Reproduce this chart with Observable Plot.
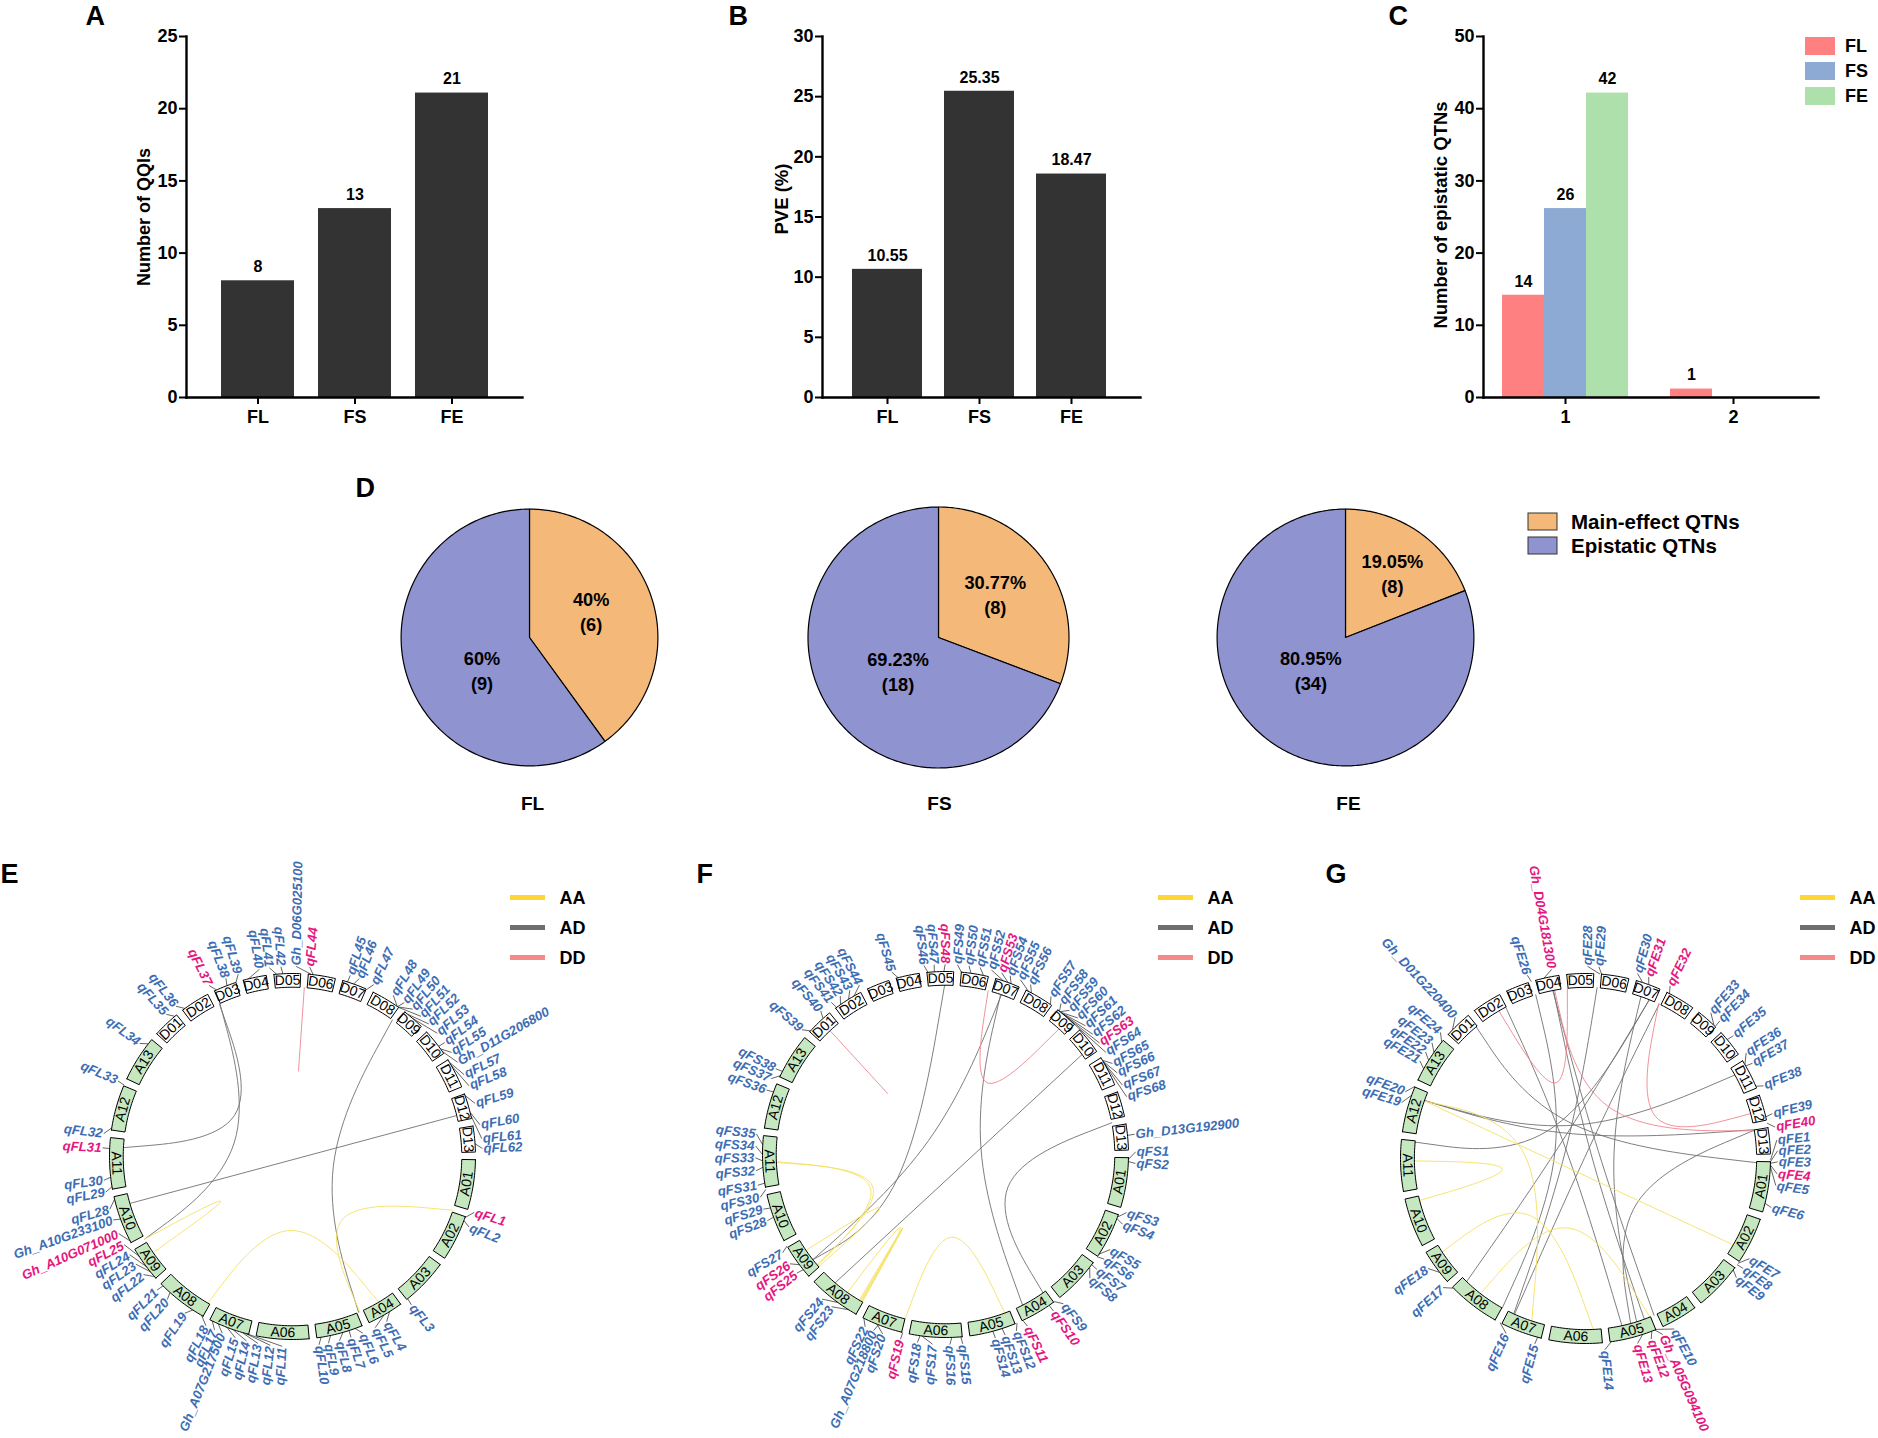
<!DOCTYPE html>
<html><head><meta charset="utf-8">
<script src="https://cdn.jsdelivr.net/npm/d3@7"></script>
<script src="https://cdn.jsdelivr.net/npm/@observablehq/plot@0.6"></script>
<style>
html,body{margin:0;padding:0;background:#fff}
#page{position:relative;width:1878px;height:1438px;overflow:hidden;font-family:"Liberation Sans",Arial,sans-serif}
#page svg{position:absolute;background:transparent;overflow:visible}
</style></head><body><div id="page"></div>
<script>
// ---- bar panels
const traits = ["FL","FS","FE"];
const qqiCounts = [8,13,21];
const pveValues = [10.55,25.35,18.47];
const pveLabels = ["10.55","25.35","18.47"];
const epiSlots = ["1|FL","1|FS","1|FE","gap","2|FL","2|FS","2|FE"];
const epiKeys = ["1|FL","1|FS","1|FE","2|FL"];
const epiValues = [14,26,42,1];
const epiColors = ["#ff8080","#8caad3","#aee0ac","#ff8080"];
// ---- pies
const pieMain = [6,8,8];
const pieEpi = [9,18,34];
const pieMainText = ["40%\n(6)","30.77%\n(8)","19.05%\n(8)"];
const pieEpiText = ["60%\n(9)","69.23%\n(18)","80.95%\n(34)"];
const pieMainLabelAt = [[.48,.21],[.435,.337],[.365,.507]];
const pieEpiLabelAt = [[-.37,-.25],[-.31,-.25],[-.27,-.25]];
const orange = "#f4b878", purple = "#8f93d0";
// ---- circos
const chromNames = ["A01","A02","A03","A04","A05","A06","A07","A08","A09","A10","A11","A12","A13","D01","D02","D03","D04","D05","D06","D07","D08","D09","D10","D11","D12","D13"];
const chromSpan = [15.8,14.6,15.2,11.5,14.7,16.7,13,16.7,11.2,15.4,16.2,14.4,14.6,8.6,9.3,7.2,7.4,8.4,8.6,7.8,9.3,6.9,8.6,9.5,8,8.2];
const linkColors = {AA:"#f5e163",AD:"#707070",DD:"#f0858f"};
const linkTypes = ["AA","AD","DD"];
const legendLine = ["#ffd633","#6e6e6e","#f58a8a"];
const BLUE = "#3d6db3", PINK = "#e5177f";

const flNames = ["qFL1","qFL2","qFL3","qFL4","qFL5","qFL6","qFL7","qFL8","qFL9","qFL10","qFL11","qFL12","qFL13","qFL14","qFL15","Gh_A07G217500","qFL17","qFL18","qFL19","qFL20","qFL21","qFL22","qFL23","qFL24","qFL25","Gh_A10G071000","Gh_A10G233100","qFL28","qFL29","qFL30","qFL31","qFL32","qFL33","qFL34","qFL35","qFL36","qFL37","qFL38","qFL39","qFL40","qFL41","qFL42","Gh_D06G025100","qFL44","qFL45","qFL46","qFL47","qFL48","qFL49","qFL50","qFL51","qFL52","qFL53","qFL54","qFL55","Gh_D11G206800","qFL57","qFL58","qFL59","qFL60","qFL61","qFL62"];
const flLabelDeg = [107.1,111.8,141.3,150.3,154.2,158.3,162.1,165.7,169.1,172,183.1,186.7,190.5,194,197.5,201.7,204.2,207.1,214.5,221.2,225.4,231.6,235.5,238.9,242.4,246.1,250.5,253.9,259.2,262.8,272.6,276.9,293.4,306.5,318.4,322.2,334,339.5,343.4,350,353,356.5,1.1,5.2,17.7,20.6,25.3,32,36,39.2,42.5,45.8,49.6,53.2,56.8,60.3,64.5,68.2,73.8,80.4,84.6,87.6];
const flRingDeg = [109.5,110.5,141,148,150,160,162,164,168,171,194.5,195,196,199,201,204,206,209.8,213,222,225,229,231,233,237,242.5,250,256.5,260.5,263.5,272.5,279,293,308,320,324,335.5,339,342,346,355,357,6,6.5,17.5,19.5,24,34.9,35,35.2,35.4,39,41,53,54,55,59,60,70.5,76,77,86];
const flPink = ["qFL1","qFL25","Gh_A10G071000","qFL31","qFL37","qFL44"];
// type, end a (deg), end b (deg), peak direction (deg), peak radius, free end radius
const flLinks = [
 ["DD",4,4,null,null,.506],
 ["AD",334.4,273,305,.42],
 ["AD",334.6,240.8,283,.354],
 ["AD",36.2,157,103.4,.248],
 ["AD",76,253.9],
 ["AA",108.5,156.6,141,.474],
 ["AA",210,149.4,181,.437],
 ["AA",240.8,235.4,238.1,.5]
];

const fsNames = ["qFS1","qFS2","Gh_D13G192900","qFS3","qFS4","qFS5","qFS6","qFS7","qFS8","qFS9","qFS10","qFS11","qFS12","qFS13","qFS14","qFS15","qFS16","qFS17","qFS18","qFS19","qFS20","Gh_A07G218800","qFS22","qFS23","qFS24","qFS25","qFS26","qFS27","qFS28","qFS29","qFS30","qFS31","qFS32","qFS33","qFS34","qFS35","qFS36","qFS37","qFS38","qFS39","qFS40","qFS41","qFS42","qFS43","qFS44","qFS45","qFS46","qFS47","qFS48","qFS49","qFS50","qFS51","qFS52","qFS53","qFS54","qFS55","qFS56","qFS57","qFS58","qFS59","qFS60","qFS61","qFS62","qFS63","qFS64","qFS65","qFS66","qFS67","qFS68"];
const fsLabelDeg = [89.2,92.7,83.9,107.8,111.5,120,123.4,127.2,130.6,141.7,145.4,154.5,158.1,161.7,164.8,174.8,178.7,183.9,188.5,193.7,199.3,202.2,205,216.8,220.5,231.4,234.9,238.9,249.6,253.3,257,260.7,265.1,269,272.6,276.2,289.8,293.5,296.8,311,319,323.1,326.4,329.8,333.1,343.6,353.5,356.6,359.9,3.6,7.1,10.5,14,17.2,19.9,23.2,26.6,33.7,37.4,40.7,44.1,47.4,50.8,54.1,57.5,61.4,64.6,68.6,72.3];
const fsRingDeg = [91.5,92.2,84,110,110.5,123,124,127,128,143.5,145.5,155,157,162,165,175.2,178,187.5,188,193.5,202,201.5,206.5,212,216,231,233,240,250,253,259,261,266,268,270,273,290,295.5,297,312.5,318,323.5,325,328,330,345,354.5,356.5,359.5,5,8,12,18.5,20,21,27,28,35,38.5,38.7,39,39.3,39.6,40,42,59,59.3,59.6,60];
const fsPink = ["qFS10","qFS11","qFS19","qFS25","qFS26","qFS48","qFS53","qFS63"];
const fsLinks = [
 ["DD",317,316.5,null,null,.497],
 ["AD",359.7,231.6,243,.32],
 ["AD",19.3,231.6,310,.13],
 ["AD",19,152.9,79.4,.213],
 ["DD",14.6,42.1,29.8,.49],
 ["AD",53.8,220.7],
 ["AD",79.2,144.8,117.3,.416],
 ["AA",267.6,229,246.8,.485],
 ["AA",267.3,229.4,246.5,.47],
 ["AA",235.5,228.5,231,.5],
 ["AA",215.4,209.8,211.7,.508],
 ["AA",210.2,209.4,210.1,.513],
 ["AA",210.6,209.8,210.3,.5],
 ["AA",193.8,159.5,175.7,.49]
];

const feNames = ["qFE1","qFE2","qFE3","qFE4","qFE5","qFE6","qFE7","qFE8","qFE9","qFE10","Gh_A05G094100","qFE12","qFE13","qFE14","qFE15","qFE16","qFE17","qFE18","qFE19","qFE20","qFE21","qFE22","qFE23","qFE24","Gh_D01G220400","qFE26","Gh_D04G181300","qFE28","qFE29","qFE30","qFE31","qFE32","qFE33","qFE34","qFE35","qFE36","qFE37","qFE38","qFE39","qFE40"];
const feLabelDeg = [84.5,87.7,91,94.6,98.1,104.8,121.4,124.9,128.3,152.5,156.3,160,164.3,174.2,195.3,204.4,227.8,235.1,286.9,290.3,300.5,303.7,307,311,317.3,342.4,349.9,.6,4,15.7,19.2,26.1,40.7,44.3,50.3,56.7,60.3,67.8,76.5,80.6];
const feRingDeg = [90.5,91,91.5,92,92.5,104,124.5,125,127,157.5,158,159,162,172,195,207.5,225.5,232,290,293,299,302,305,309,314,343,347,4.5,5,18,20,27,44,44.5,50,59.5,60,67,77,79];
const fePink = ["qFE4","Gh_A05G094100","qFE12","qFE13","Gh_D04G181300","qFE31","qFE32","qFE40"];
const feLinks = [
 ["AD",320.3,91.4,339.6,.215],
 ["AD",332.2,167.7,297.8,.133],
 ["AD",343.1,209.1,282.9,.183],
 ["AD",349.2,159.9,59,.04],
 ["AD",349,156.4,61.5,.086],
 ["AD",3.9,204.8,289,.125],
 ["AD",18.9,162.6,98,.167],
 ["AD",21.9,224,291,.173],
 ["AD",25.5,204.5,19,.066],
 ["AD",289.8,60.8,344.6,.203],
 ["AD",289.8,80.3,332.4,.163],
 ["AD",275.5,21.9,305.2,.276],
 ["AD",80.5,164.7,130.8,.398],
 ["DD",329.6,353.9,338.8,.475],
 ["DD",349.6,80.7,25,.33],
 ["DD",25.3,74.8,59,.477],
 ["AA",289.7,120.3],
 ["AA",289.6,198.3,273,.355],
 ["AA",269.2,255.8,262.7,.49],
 ["AA",236.9,177.4,222.5,.46],
 ["AA",217.8,157.9,193.4,.418]
];

const page = document.getElementById("page");
function place(svg,left,top){svg.style.left=left+"px";svg.style.top=top+"px";page.appendChild(svg);}
const FONT = '"Liberation Sans",Arial,sans-serif';
const NARROW = '"Liberation Sans Narrow","Liberation Sans",Arial,sans-serif';
const letter = (t,dx,dy) => Plot.text([t],{frameAnchor:"top-left",dx,dy,fontSize:27,fontWeight:700,fontFamily:FONT,lineAnchor:"top",textAnchor:"start"});

function barPanel(o){
  const marks = [
    Plot.barY(o.rows,{x:"k",y:"v",fill:"c",insetTop:-1.2}),
    Plot.text(o.rows.filter(d=>d.t),{x:"k",y:"v",text:"t",dy:-15,fontSize:o.valueSize,fontFamily:o.font}),
    Plot.axisY({ticks:o.ticks,tickSize:7,strokeWidth:2,tickPadding:2,label:null,fontSize:o.tickSize,fontFamily:o.font}),
    Plot.axisX({ticks:o.xticks,tickSize:7,strokeWidth:2,tickPadding:6,label:null,tickFormat:o.xfmt,fontSize:o.tickSize,fontFamily:o.font}),
    Plot.frame({anchor:"left",stroke:"#000",strokeWidth:2.4}),
    Plot.frame({anchor:"bottom",stroke:"#000",strokeWidth:2.4}),
    Plot.text([o.ylabel],{frameAnchor:"left",textAnchor:"middle",rotate:-90,dx:o.labelDx,dy:o.labelDy||0,fontSize:o.labelSize,fontFamily:FONT}),
    letter(o.letter,o.letterDx,o.letterDy)
  ];
  const svg = Plot.plot({
    width:o.width,height:440,marginTop:36,marginBottom:43,marginLeft:o.axisX,marginRight:o.width-o.axisEnd,
    style:{fontFamily:FONT,fontWeight:700,color:"#000",background:"transparent",overflow:"visible"},
    color:{type:"identity"},
    x:{domain:o.domain,range:o.range,padding:o.padding,axis:null},
    y:{domain:[0,o.ymax],axis:null},
    marks
  });
  place(svg,o.left,0);
}
const rowsOf = (ks,vs,ls,cs)=>ks.map((k,i)=>({k,v:vs[i],t:ls[i],c:cs[i]}));
barPanel({left:60,width:480,axisX:126,axisEnd:462,range:[136,453.5],padding:.25,domain:traits,xticks:traits,
  rows:rowsOf(traits,qqiCounts,qqiCounts.map(String),["#333","#333","#333"]),ticks:[0,5,10,15,20,25],ymax:25,
  ylabel:"Number of QQIs",labelDx:-42,labelSize:18,font:NARROW,tickSize:18,valueSize:16,letter:"A",letterDx:-101,letterDy:-31});
barPanel({left:720,width:430,axisX:102,axisEnd:420,range:[109,409],padding:.243,domain:traits,xticks:traits,
  rows:rowsOf(traits,pveValues,pveLabels,["#333","#333","#333"]),ticks:[0,5,10,15,20,25,30],ymax:30,
  ylabel:"PVE (%)",labelDx:-40,labelDy:-18,labelSize:18.5,font:NARROW,tickSize:18,valueSize:16,letter:"B",letterDx:-94,letterDy:-31});
barPanel({left:1385,width:440,axisX:98,axisEnd:433,range:[114.6,413.6],padding:0,domain:epiSlots,xticks:["1|FS","2|FS"],xfmt:d=>d[0],
  rows:rowsOf(epiKeys,epiValues,epiValues.map(String),epiColors),ticks:[0,10,20,30,40,50],ymax:50,
  ylabel:"Number of epistatic QTNs",labelDx:-42,labelDy:-2,labelSize:18.5,font:FONT,tickSize:18,valueSize:16,letter:"C",letterDx:-95,letterDy:-31});

function legend(left,top,w,rowH,items,colors,swW,textX,pad,size,outline){
  const svg = Plot.plot({
    width:w,height:rowH*items.length,margin:0,
    style:{fontFamily:FONT,fontWeight:700,color:"#000",background:"transparent",overflow:"visible"},
    color:{type:"identity"},
    x:{domain:[0,w],range:[0,w],axis:null},
    y:{domain:items,paddingInner:pad,paddingOuter:pad/2,axis:null},
    marks:[
      Plot.barX(items,{x1:()=>0,x2:()=>swW,y:d=>d,fill:(d,i)=>colors[i],stroke:outline||"none",strokeWidth:outline?1:0}),
      Plot.text(items,{x:()=>textX,y:d=>d,textAnchor:"start",fontSize:size})
    ]
  });
  place(svg,left,top);
}
legend(1805,33.3,73,25.5,traits,["#ff8080","#8caad3","#aee0ac"],30,39.5,.28,18);
legend(1528,509,340,24,["Main-effect QTNs","Epistatic QTNs"],[orange,purple],29,42.5,.3,20.5,"#333");

// Pies
function piePanel(i,left,w,cx,R,labelShift){
  const top=470, h=360, cy=637-top;
  const total = pieMain[i]+pieEpi[i], split = pieMain[i]/total*360;
  const slice = (k,c,from,to)=>[{x:0,y:0,k,c},...d3.range(from,to,1).concat([to]).map(a=>({x:Math.sin(a*Math.PI/180),y:Math.cos(a*Math.PI/180),k,c})),{x:0,y:0,k,c}];
  const pts = [...slice("m",orange,0,split),...slice("e",purple,split,360)];
  const marks = [
    Plot.line(pts,{x:"x",y:"y",z:"k",fill:"c",stroke:"#000",strokeWidth:1.2,curve:"linear"}),
    Plot.text([pieMainText[i]],{x:()=>pieMainLabelAt[i][0],y:()=>pieMainLabelAt[i][1],fontSize:18.2,lineHeight:1.37}),
    Plot.text([pieEpiText[i]],{x:()=>pieEpiLabelAt[i][0],y:()=>pieEpiLabelAt[i][1],fontSize:18.2,lineHeight:1.37}),
    Plot.text([traits[i]],{frameAnchor:"bottom",dy:-21,dx:cx-w/2+labelShift,fontSize:19})
  ];
  if(i===0) marks.push(letter("D",5,7));
  const svg = Plot.plot({width:w,height:h,margin:0,
    style:{fontFamily:FONT,fontWeight:700,color:"#000",background:"transparent",overflow:"visible"},
    color:{type:"identity"},
    x:{domain:[-cx/R,(w-cx)/R],range:[0,w],axis:null},
    y:{domain:[-(h-cy)/R,cy/R],range:[h,0],axis:null},
    marks});
  place(svg,left,top);
}
piePanel(0,350,360,179,128.4,3);
piePanel(1,760,360,178,130.5,1);
piePanel(2,1180,340,165,128.4,3);

// Circos panels
function circos(o){
  const rad=d=>d*Math.PI/180, px=(d,r)=>Math.sin(rad(d))*r, py=(d,r)=>Math.cos(rad(d))*r;
  const R=o.R, Ri=.925, W=o.w, H=o.h;
  const gap=(360-d3.sum(chromSpan))/chromSpan.length;
  let a=o.start; const segs=[];
  chromNames.forEach((n,i)=>{segs.push({n,a0:a,a1:a+chromSpan[i],isA:n[0]==="A"});a+=chromSpan[i]+gap;});
  const poly=[];
  segs.forEach(s=>{
    const arc=d3.range(s.a0,s.a1,1).concat([s.a1]);
    const ring=[...arc.map(d=>[d,1]),...arc.slice().reverse().map(d=>[d,Ri])];
    ring.push(ring[0]);
    ring.forEach(([d,r])=>poly.push({n:s.n,x:px(d,r),y:py(d,r),c:s.isA?"#c5e8c0":"#fff"}));
  });
  const segLabels=segs.map(s=>{const m=(s.a0+s.a1)/2,mm=m%360;return{n:s.n,x:px(m,(1+Ri)/2),y:py(m,(1+Ri)/2),rot:(mm>90&&mm<270)?mm-180:(mm>=270?mm-360:mm)};});
  const links=[];
  o.links.forEach((l,i)=>{
    const [t,aa,bb,pd,pr,free]=l, ra=Ri, rb=(free||1)*Ri;
    const p0=[px(aa,ra),py(aa,ra)], p2=[px(bb,rb),py(bb,rb)];
    const pts=[p0];
    if(pd!=null){const pk=[px(pd,pr*Ri),py(pd,pr*Ri)];
      pts.push([(6*pk[0]-p0[0]-p2[0])/4,(6*pk[1]-p0[1]-p2[1])/4]);}
    pts.push(p2);
    pts.forEach(p=>links.push({i,x:p[0],y:p[1],c:linkColors[t]}));
  });
  const rows=o.names.map((n,i)=>{const d=o.labelDeg[i],dd=(d+360)%360;return{n,d:dd,ring:o.ringDeg[i],right:dd<180,rot:dd<180?dd-90:dd-270,c:o.pink.includes(n)?PINK:BLUE};});
  const LR=o.labelR;
  const labelMark=(rs,anchor)=>Plot.text(rs,{x:d=>px(d.d,LR),y:d=>py(d.d,LR),text:"n",rotate:"rot",fill:"c",textAnchor:anchor,fontSize:13.2,fontStyle:"italic",fontWeight:700});
  const svg=Plot.plot({width:W,height:H,margin:0,
    style:{fontFamily:FONT,color:"#000",background:"transparent",overflow:"visible"},
    color:{type:"identity"},
    x:{domain:[-o.cx/R,(W-o.cx)/R],range:[0,W],axis:null},
    y:{domain:[-(H-o.cy)/R,o.cy/R],range:[H,0],axis:null},
    marks:[
      Plot.line(links,{x:"x",y:"y",z:"i",stroke:"c",strokeWidth:.9,curve:"basis"}),
      Plot.link(rows,{x1:d=>px(d.ring,1),y1:d=>py(d.ring,1),x2:d=>px(d.d,LR-.006),y2:d=>py(d.d,LR-.006),stroke:"#222",strokeWidth:.7}),
      Plot.line(poly,{x:"x",y:"y",z:"n",fill:"c",stroke:"#000",strokeWidth:1,curve:"linear"}),
      Plot.text(segLabels,{x:"x",y:"y",text:"n",rotate:"rot",fontSize:14,fill:"#000"}),
      labelMark(rows.filter(d=>d.right),"start"),
      labelMark(rows.filter(d=>!d.right),"end"),
      letter(o.letter,o.ldx,o.ldy)
    ]});
  place(svg,o.left,o.top);
  legend(o.legX,883.7-1.5,80,30.5,linkTypes,legendLine,35,49,.84,18);
}
circos({letter:"E",ldx:0,ldy:23,left:0,top:840,w:620,h:598,cx:292,cy:316,R:183,start:91,labelR:1.045,
  names:flNames,labelDeg:flLabelDeg,ringDeg:flRingDeg,pink:flPink,links:flLinks,legX:510});
circos({letter:"F",ldx:16,ldy:23,left:680,top:840,w:620,h:598,cx:265,cy:314,R:183,start:91,labelR:1.045,
  names:fsNames,labelDeg:fsLabelDeg,ringDeg:fsRingDeg,pink:fsPink,links:fsLinks,legX:1158});
circos({letter:"G",ldx:25,ldy:23,left:1300,top:840,w:578,h:598,cx:285,cy:318,R:185,start:91,labelR:1.045,
  names:feNames,labelDeg:feLabelDeg,ringDeg:feRingDeg,pink:fePink,links:feLinks,legX:1800});
</script></body></html>
